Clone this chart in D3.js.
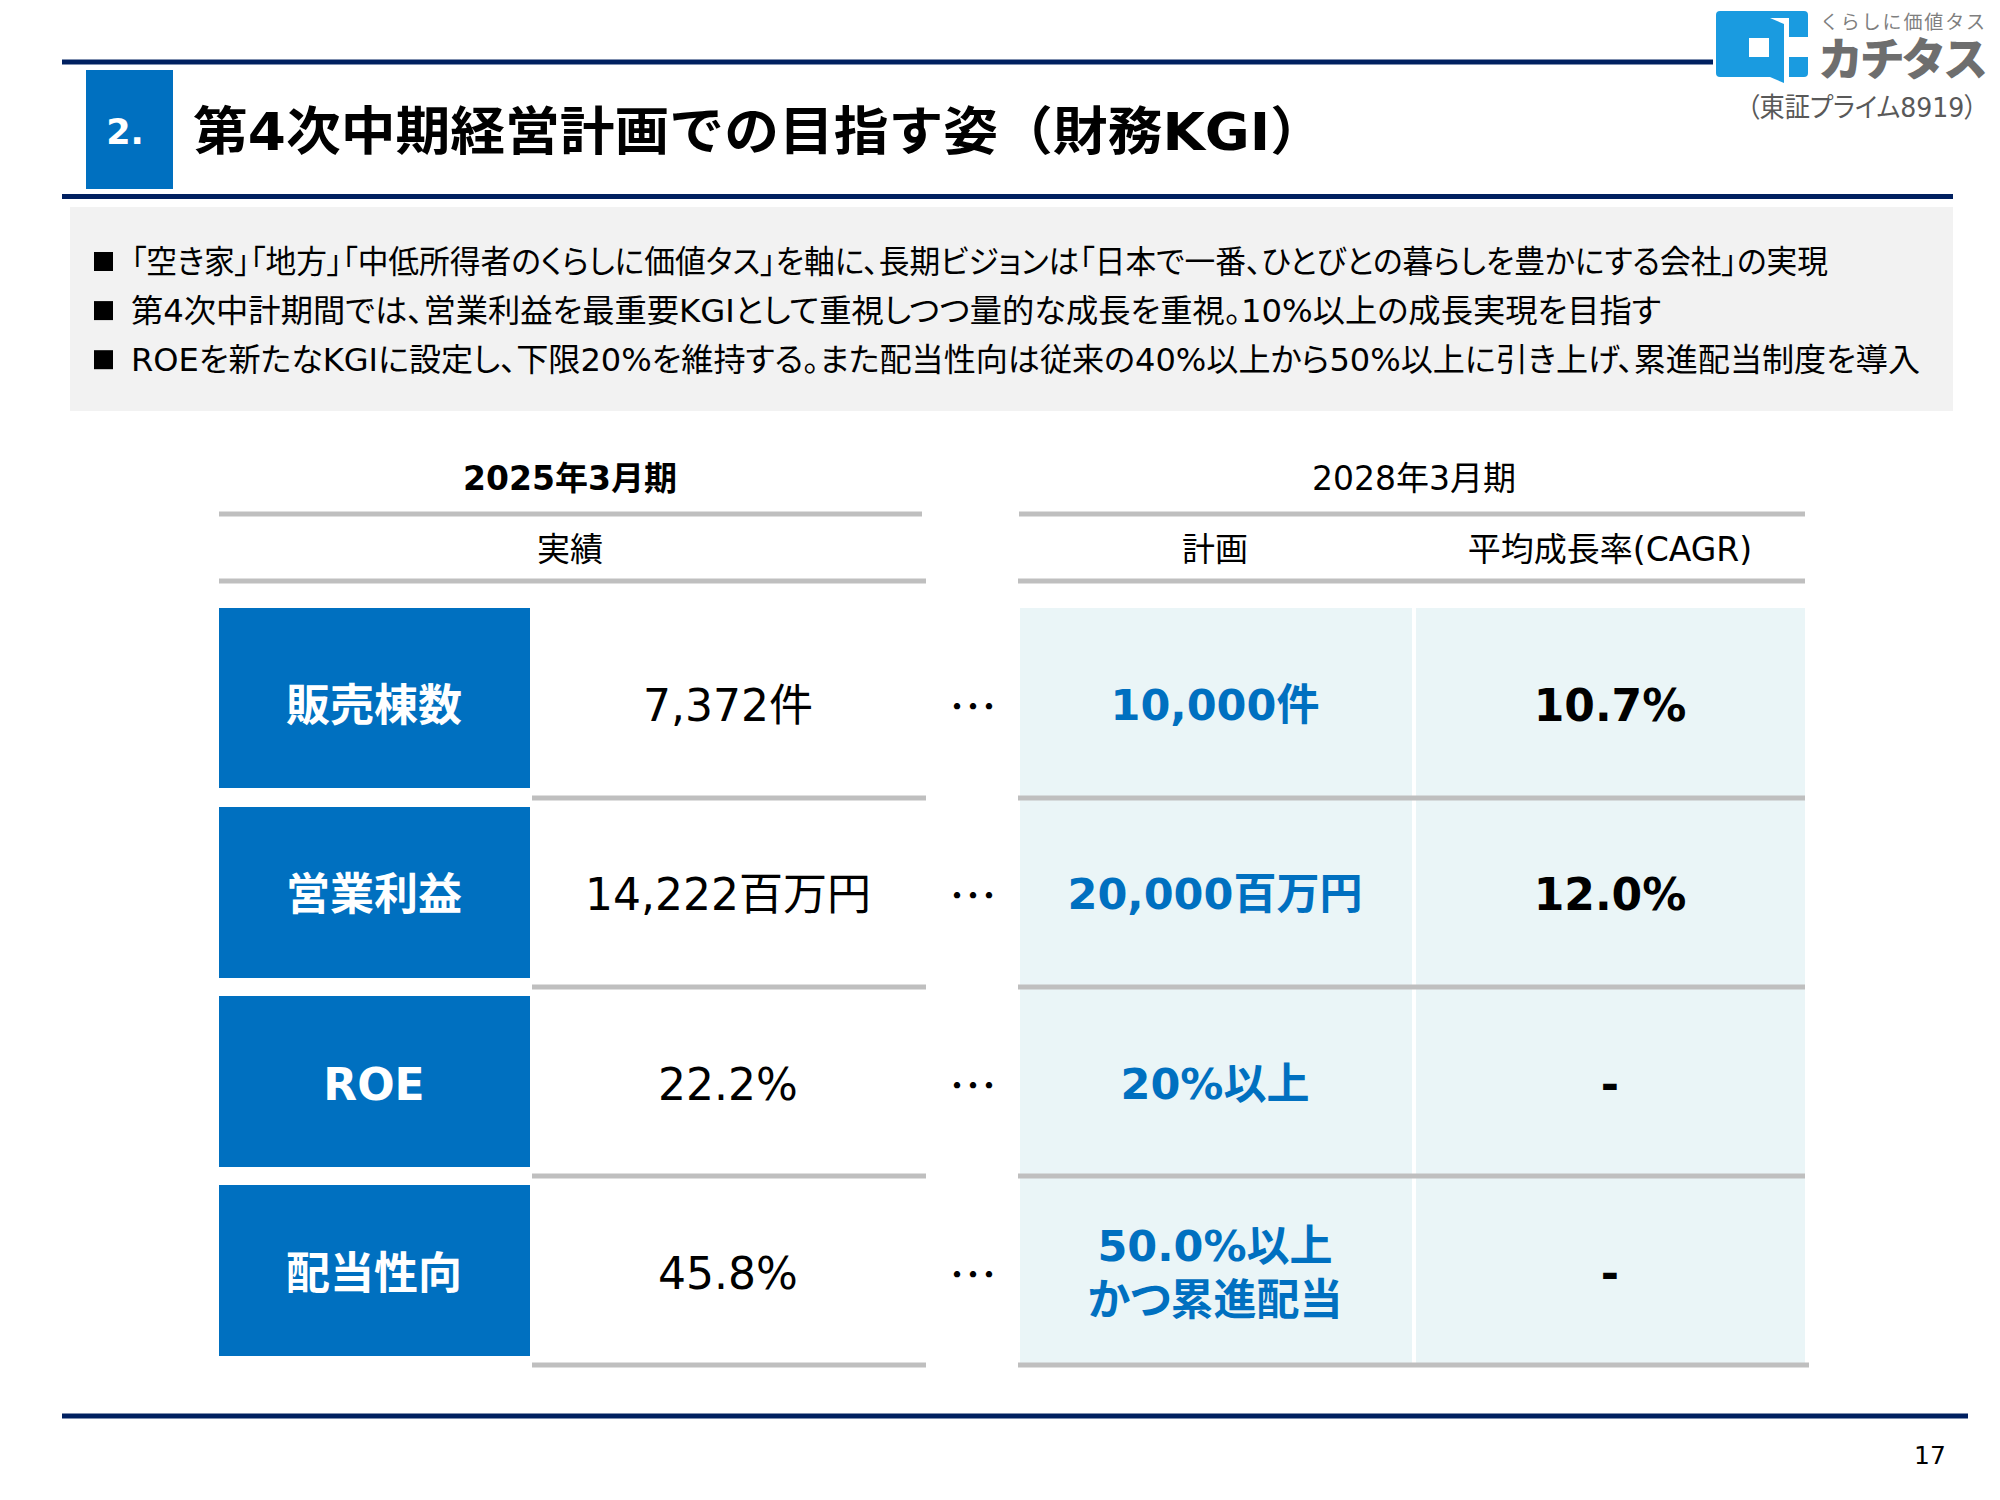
<!DOCTYPE html>
<html lang="ja">
<head>
    <meta charset="UTF-8">
    <title>第4次中期経営計画での目指す姿（財務KGI）</title>
    <script src="https://d3js.org/d3.v7.min.js"></script>
    <style>
        body { margin: 0; background: #fff; }
        text {
            font-family: "DejaVu Sans", "Noto Sans CJK JP", sans-serif;
            font-feature-settings: "palt";
        }
        .cjk { font-family: "Noto Sans CJK JP", sans-serif; }
        .nopalt { font-feature-settings: normal; }
    </style>
</head>
<body>
    <svg id="chart" width="2000" height="1500"></svg>
    <script>
        // Table contents
        const categories = ["販売棟数", "営業利益", "ROE", "配当性向"];
        const actual2025 = ["7,372件", "14,222百万円", "22.2%", "45.8%"];
        const plan2028 = [["10,000件"], ["20,000百万円"], ["20%以上"], ["50.0%以上", "かつ累進配当"]];
        const cagr = ["10.7%", "12.0%", "-", "-"];
        const bullets = [
            "「空き家」「地方」「中低所得者のくらしに価値タス」を軸に、長期ビジョンは「日本で一番、ひとびとの暮らしを豊かにする会社」の実現",
            "第4次中計期間では、営業利益を最重要KGIとして重視しつつ量的な成長を重視。10%以上の成長実現を目指す",
            "ROEを新たなKGIに設定し、下限20%を維持する。また配当性向は従来の40%以上から50%以上に引き上げ、累進配当制度を導入"
        ];
        const bulletRight = [1828, 1661, 1920];

        const BLUE = "#0070C0", NAVY = "#002060", RULE = "#BFBFBF", CELL = "#EAF5F7";

        const svg = d3.select("#chart");

        // Rows are not equal height, so ordinal scales hold the row edges
        const rowTop = d3.scaleOrdinal().domain(categories).range([608, 807, 996, 1185]);
        const rowBottom = d3.scaleOrdinal().domain(categories).range([788, 978, 1167, 1356]);
        const ruleY = d3.scaleOrdinal().domain(categories).range([798, 987, 1176, 1365]);
        const cellTop = d3.scaleOrdinal().domain(categories).range([608, 798, 987, 1176]);
        const textY = d3.scaleOrdinal().domain(categories).range([705, 894, 1084, 1273]);

        function label(x, y, str, size, opts = {}) {
            return svg.append("text")
                .attr("x", x)
                .attr("y", y)
                .attr("text-anchor", opts.anchor || "middle")
                .attr("dominant-baseline", "central")
                .attr("font-size", size)
                .attr("font-weight", opts.weight || 400)
                .attr("fill", opts.fill || "#000")
                .text(str);
        }

        function rule(x1, x2, y, color = RULE, w = 5) {
            svg.append("line")
                .attr("x1", x1).attr("x2", x2)
                .attr("y1", y).attr("y2", y)
                .attr("stroke", color)
                .attr("stroke-width", w);
        }

        // Header band
        rule(62, 1713, 62, NAVY, 5);
        rule(62, 1953, 196.5, NAVY, 5);
        svg.append("rect").attr("x", 86).attr("y", 70).attr("width", 87).attr("height", 119).attr("fill", BLUE);
        label(125, 132, "2.", 35, {weight: 700, fill: "#fff"});
        label(193, 132, "第4次中期経営計画での目指す姿（財務KGI）", 52, {anchor: "start", weight: 700})
            .attr("class", "nopalt")
            .attr("textLength", 1132).attr("lengthAdjust", "spacingAndGlyphs");

        // Logo
        const logo = svg.append("g").attr("transform", "translate(1716,11)");
        logo.append("rect").attr("width", 92).attr("height", 66).attr("rx", 4).attr("fill", "#1A9BE0");
        logo.append("path").attr("d", "M54,66H68V72Z").attr("fill", "#1A9BE0");
        logo.append("path").attr("d", "M54,7H73V66H68V13Z").attr("fill", "#fff");
        logo.append("rect").attr("x", 73).attr("y", 26).attr("width", 20).attr("height", 20).attr("fill", "#fff");
        logo.append("rect").attr("x", 33).attr("y", 27).attr("width", 20).attr("height", 19).attr("fill", "#fff");
        label(1820, 20, "くらしに価値タス", 19, {anchor: "start", fill: "#7F7F7F"})
            .attr("class", "cjk nopalt").attr("textLength", 165);
        label(1818, 56, "カチタス", 45, {anchor: "start", weight: 900, fill: "#6E6E6E"})
            .attr("class", "cjk nopalt").attr("textLength", 170);
        label(1747, 107, "（東証プライム8919）", 27, {anchor: "start", fill: "#595959"})
            .attr("textLength", 230).attr("lengthAdjust", "spacingAndGlyphs");

        // Summary box
        svg.append("rect").attr("x", 70).attr("y", 207).attr("width", 1883).attr("height", 204).attr("fill", "#F2F2F2");
        const bulletY = d3.scalePoint().domain(d3.range(bullets.length)).range([261.5, 359.7]);
        bullets.forEach((b, i) => {
            svg.append("rect").attr("x", 94).attr("y", bulletY(i) - 9.5).attr("width", 19).attr("height", 19).attr("fill", "#000");
            label(131, bulletY(i), b, 32, {anchor: "start"})
                .attr("textLength", bulletRight[i] - 131)
                .attr("lengthAdjust", "spacingAndGlyphs");
        });

        // Column headers
        label(570, 478, "2025年3月期", 33, {weight: 700});
        label(1414, 478, "2028年3月期", 33);
        rule(219, 922, 514);
        rule(1019, 1805, 514);
        label(570, 549, "実績", 33);
        label(1215, 549, "計画", 33);
        label(1610, 549, "平均成長率(CAGR)", 33);
        rule(219, 926, 581);
        rule(1018, 1805, 581);

        // Plan cells run on from rule to rule
        categories.forEach(c => {
            svg.append("rect").attr("x", 1020).attr("y", cellTop(c)).attr("width", 392)
                .attr("height", ruleY(c) - cellTop(c)).attr("fill", CELL);
            svg.append("rect").attr("x", 1416).attr("y", cellTop(c)).attr("width", 389)
                .attr("height", ruleY(c) - cellTop(c)).attr("fill", CELL);
        });

        // Rows
        categories.forEach((c, i) => {
            const y = textY(c);
            svg.append("rect").attr("x", 219).attr("y", rowTop(c)).attr("width", 311)
                .attr("height", rowBottom(c) - rowTop(c)).attr("fill", BLUE);
            label(374, y, c, 44, {weight: 700, fill: "#fff"});
            label(728, y, actual2025[i], 44);
            label(973, y - 2, "…", 48).attr("class", "cjk nopalt");
            const lines = plan2028[i];
            const lineY = d3.scalePoint().domain(d3.range(lines.length)).range(lines.length > 1 ? [y - 27, y + 27] : [y, y]);
            lines.forEach((t, j) => label(1215, lineY(j), t, 43, {weight: 700, fill: BLUE}));
            label(1610, y, cagr[i], 44, {weight: 700});
            rule(532, 926, ruleY(c));
            rule(1018, i === categories.length - 1 ? 1809 : 1805, ruleY(c));
        });

        // Footer
        rule(62, 1968, 1416, NAVY, 5);
        label(1930, 1455, "17", 25);
    </script>
</body>
</html>
